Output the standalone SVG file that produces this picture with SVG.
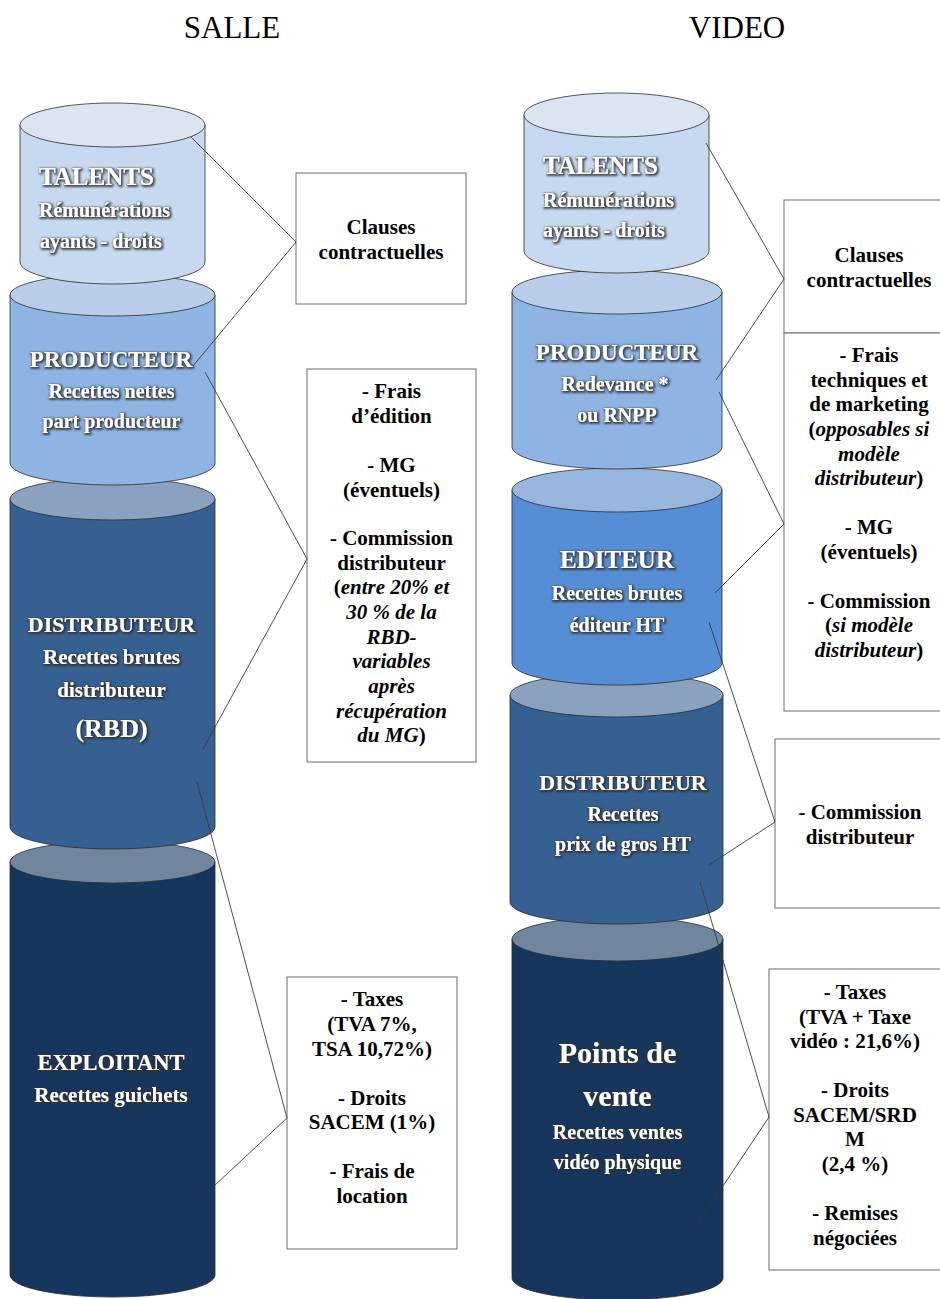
<svg xmlns="http://www.w3.org/2000/svg" width="940" height="1299" viewBox="0 0 940 1299">
<defs>
<filter id="glow" x="-15%" y="-40%" width="130%" height="180%">
<feMorphology in="SourceAlpha" operator="dilate" radius="0.8" result="d"/>
<feGaussianBlur in="d" stdDeviation="0.9" result="b"/>
<feFlood flood-color="#303030" flood-opacity="0.85"/>
<feComposite in2="b" operator="in" result="s"/>
<feOffset in="s" dx="0.6" dy="1" result="o"/>
<feMerge><feMergeNode in="o"/><feMergeNode in="SourceGraphic"/></feMerge>
</filter>
</defs>
<style>
.side{stroke:#2b2b2b;stroke-width:0.8}
.top{stroke:#2b2b2b;stroke-width:0.8}
.ct{fill:#fff;font-family:"Liberation Serif",serif;font-weight:bold;text-anchor:middle;filter:url(#glow)}
.box{fill:#fff;stroke:#6a6a6a;stroke-width:1}
.lbl{fill:#000;font-family:"Liberation Serif",serif;font-weight:bold;font-size:21px;text-anchor:middle}
.it{font-style:italic}
.conn{fill:none;stroke:#3a3a3a;stroke-width:0.9}
.title{fill:#000;font-family:"Liberation Serif",serif;font-size:31px;text-anchor:middle}
.c1s{fill:#c6d9f0}.c1t{fill:#dbe5f2}
.c2s{fill:#8eb4e3}.c2t{fill:#b9cdea}
.c3s{fill:#558ed5}.c3t{fill:#98b6de}
.c4s{fill:#366092}.c4t{fill:#8aa1bf}
.c5s{fill:#17365d}.c5t{fill:#72859f}
</style>

<text class="title" x="232" y="38">SALLE</text>
<text class="title" x="737" y="38">VIDEO</text>

<!-- LEFT column (drawn bottom first) -->
<g id="salle-exploitant">
<path class="side c5s" d="M10 862 L10 1275 A102.5 22 0 0 0 215 1275 L215 862 Z"/>
<ellipse class="top c5t" cx="112.5" cy="862" rx="102.5" ry="21"/>
<text class="ct" x="111" y="1070" font-size="22.5">EXPLOITANT</text>
<text class="ct" x="111" y="1102" font-size="21">Recettes guichets</text>
</g>
<g id="salle-distributeur">
<path class="side c4s" d="M10 499 L10 827 A102.5 22 0 0 0 215 827 L215 499 Z"/>
<ellipse class="top c4t" cx="112.5" cy="499" rx="102.5" ry="21"/>
<text class="ct" x="111.5" y="632" font-size="22">DISTRIBUTEUR</text>
<text class="ct" x="111.5" y="664" font-size="21">Recettes brutes</text>
<text class="ct" x="111.5" y="697" font-size="21">distributeur</text>
<text class="ct" x="111.5" y="737" font-size="26">(RBD)</text>
</g>
<g id="salle-producteur">
<path class="side c2s" d="M10 295 L10 463 A102.5 22 0 0 0 215 463 L215 295 Z"/>
<ellipse class="top c2t" cx="112.5" cy="295" rx="102.5" ry="21"/>
<text class="ct" x="111" y="367" font-size="23">PRODUCTEUR</text>
<text class="ct" x="111.5" y="398" font-size="20">Recettes nettes</text>
<text class="ct" x="111.5" y="428" font-size="20">part producteur</text>
</g>
<g id="salle-talents">
<path class="side c1s" d="M20 125 L20 262 A92.5 22 0 0 0 205 262 L205 125 Z"/>
<ellipse class="top c1t" cx="112.5" cy="125" rx="92.5" ry="22"/>
<text class="ct" x="39" y="185" font-size="25" style="text-anchor:start">TALENTS</text>
<text class="ct" x="39" y="217" font-size="20" style="text-anchor:start">Rémunérations</text>
<text class="ct" x="40" y="248" font-size="20" style="text-anchor:start">ayants - droits</text>
</g>

<!-- RIGHT column -->
<g id="video-points-de-vente">
<path class="side c5s" d="M512 939 L512 1278 A105.5 22 0 0 0 723 1278 L723 939 Z"/>
<ellipse class="top c5t" cx="617.5" cy="939" rx="105.5" ry="22"/>
<text class="ct" x="617.5" y="1063" font-size="30">Points de</text>
<text class="ct" x="617.5" y="1106" font-size="30">vente</text>
<text class="ct" x="617.5" y="1139" font-size="20">Recettes ventes</text>
<text class="ct" x="617.5" y="1169" font-size="20">vidéo physique</text>
</g>
<g id="video-distributeur">
<path class="side c4s" d="M510 695 L510 902 A106.5 22 0 0 0 723 902 L723 695 Z"/>
<ellipse class="top c4t" cx="616.5" cy="695" rx="106.5" ry="22"/>
<text class="ct" x="623" y="790" font-size="22">DISTRIBUTEUR</text>
<text class="ct" x="623" y="821" font-size="20">Recettes</text>
<text class="ct" x="623" y="851" font-size="20">prix de gros HT</text>
</g>
<g id="video-editeur">
<path class="side c3s" d="M512 490 L512 663 A105 22 0 0 0 722 663 L722 490 Z"/>
<ellipse class="top c3t" cx="617" cy="490" rx="105" ry="22"/>
<text class="ct" x="617" y="568" font-size="25">EDITEUR</text>
<text class="ct" x="617" y="600" font-size="20">Recettes brutes</text>
<text class="ct" x="617" y="632" font-size="20">éditeur HT</text>
</g>
<g id="video-producteur">
<path class="side c2s" d="M512 292 L512 447 A105 22 0 0 0 722 447 L722 292 Z"/>
<ellipse class="top c2t" cx="617" cy="292" rx="105" ry="22"/>
<text class="ct" x="617" y="360" font-size="23">PRODUCTEUR</text>
<text class="ct" x="615" y="391" font-size="20">Redevance *</text>
<text class="ct" x="617" y="422" font-size="20">ou RNPP</text>
</g>
<g id="video-talents">
<path class="side c1s" d="M524 115 L524 251 A92.5 22 0 0 0 709 251 L709 115 Z"/>
<ellipse class="top c1t" cx="616.5" cy="115" rx="92.5" ry="22"/>
<text class="ct" x="543" y="174" font-size="25" style="text-anchor:start">TALENTS</text>
<text class="ct" x="543" y="207" font-size="20" style="text-anchor:start">Rémunérations</text>
<text class="ct" x="543" y="237" font-size="20" style="text-anchor:start">ayants - droits</text>
</g>

<!-- Boxes -->
<g id="salle-clauses">
<rect class="box" x="296" y="173" width="170" height="131"/>
<text class="lbl" x="381" y="234">Clauses</text>
<text class="lbl" x="381" y="259">contractuelles</text>
</g>
<g id="salle-frais">
<rect class="box" x="307" y="369" width="169" height="393"/>
<text class="lbl" x="391.5" y="398">- Frais</text>
<text class="lbl" x="391.5" y="423">d’édition</text>
<text class="lbl" x="391.5" y="472">- MG</text>
<text class="lbl" x="391.5" y="497">(éventuels)</text>
<text class="lbl" x="391.5" y="545">- Commission</text>
<text class="lbl" x="391.5" y="570">distributeur</text>
<text class="lbl" x="391.5" y="594">(<tspan class="it">entre 20% et</tspan></text>
<text class="lbl it" x="391.5" y="619">30 % de la</text>
<text class="lbl it" x="391.5" y="644">RBD-</text>
<text class="lbl it" x="391.5" y="668">variables</text>
<text class="lbl it" x="391.5" y="693">après</text>
<text class="lbl it" x="391.5" y="718">récupération</text>
<text class="lbl" x="391.5" y="742"><tspan class="it">du MG</tspan>)</text>
</g>
<g id="salle-taxes">
<rect class="box" x="287" y="977" width="170" height="272"/>
<text class="lbl" x="372" y="1006">- Taxes</text>
<text class="lbl" x="372" y="1031">(TVA 7%,</text>
<text class="lbl" x="372" y="1056">TSA 10,72%)</text>
<text class="lbl" x="372" y="1105">- Droits</text>
<text class="lbl" x="372" y="1129">SACEM (1%)</text>
<text class="lbl" x="372" y="1178">- Frais de</text>
<text class="lbl" x="372" y="1203">location</text>
</g>
<g id="video-clauses">
<rect class="box" x="784" y="200" width="165" height="133"/>
<text class="lbl" x="869" y="262">Clauses</text>
<text class="lbl" x="869" y="287">contractuelles</text>
</g>
<g id="video-frais">
<rect class="box" x="784" y="333" width="165" height="378"/>
<text class="lbl" x="869" y="362">- Frais</text>
<text class="lbl" x="869" y="387">techniques et</text>
<text class="lbl" x="869" y="411">de marketing</text>
<text class="lbl" x="869" y="436">(<tspan class="it">opposables si</tspan></text>
<text class="lbl it" x="869" y="461">modèle</text>
<text class="lbl" x="869" y="485"><tspan class="it">distributeur</tspan>)</text>
<text class="lbl" x="869" y="534">- MG</text>
<text class="lbl" x="869" y="559">(éventuels)</text>
<text class="lbl" x="869" y="608">- Commission</text>
<text class="lbl" x="869" y="632">(<tspan class="it">si modèle</tspan></text>
<text class="lbl" x="869" y="657"><tspan class="it">distributeur</tspan>)</text>
</g>
<g id="video-commission">
<rect class="box" x="775" y="739" width="170" height="169"/>
<text class="lbl" x="860" y="819">- Commission</text>
<text class="lbl" x="860" y="844">distributeur</text>
</g>
<g id="video-taxes">
<rect class="box" x="769" y="969" width="176" height="301"/>
<text class="lbl" x="855" y="999">- Taxes</text>
<text class="lbl" x="855" y="1024">(TVA + Taxe</text>
<text class="lbl" x="855" y="1048">vidéo : 21,6%)</text>
<text class="lbl" x="855" y="1097">- Droits</text>
<text class="lbl" x="855" y="1122">SACEM/SRD</text>
<text class="lbl" x="855" y="1146">M</text>
<text class="lbl" x="855" y="1171">(2,4 %)</text>
<text class="lbl" x="855" y="1220">- Remises</text>
<text class="lbl" x="855" y="1245">négociées</text>
</g>

<!-- Connectors -->
<g id="connectors">
<polyline class="conn" points="191,137 296,242 193,366"/>
<polyline class="conn" points="205,372 307,559 203,749"/>
<polyline class="conn" points="197,782 287,1118 199,1200"/>
<polyline class="conn" points="706,143 784,279 716,380"/>
<polyline class="conn" points="719,392 784,524 715,593"/>
<polyline class="conn" points="709,622 775,822 709,865"/>
<polyline class="conn" points="700,882 769,1117 697,1225"/>
</g>
</svg>
